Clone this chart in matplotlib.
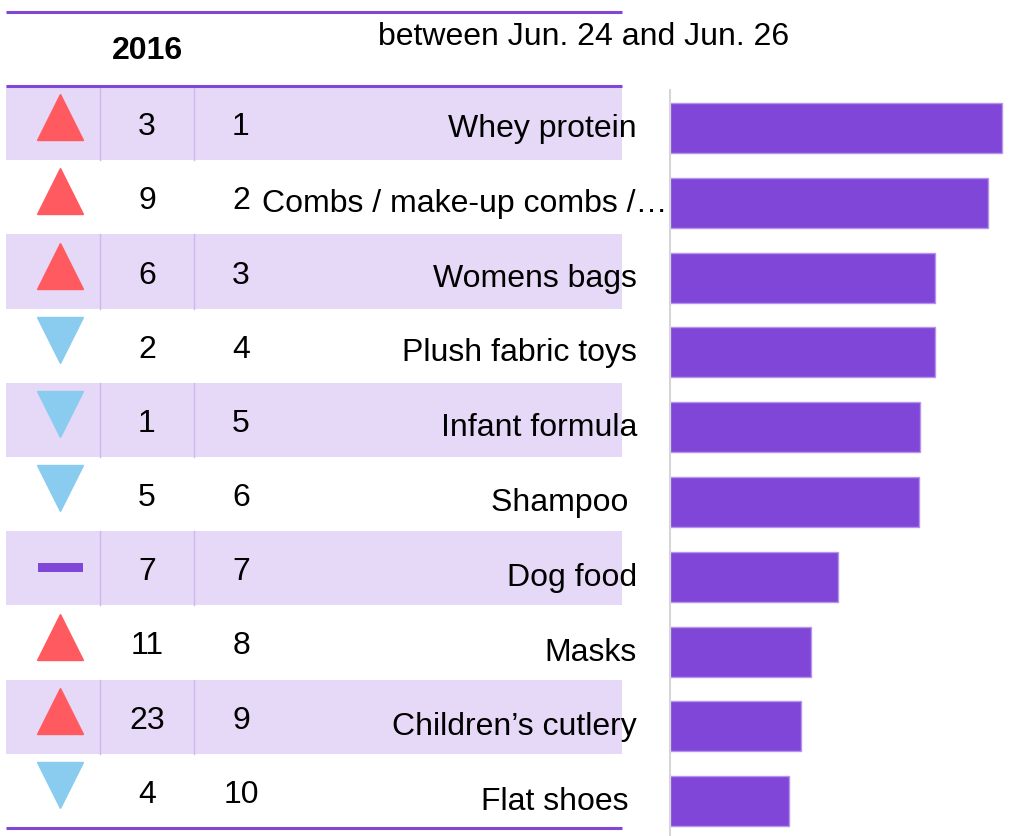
import numpy as np
import matplotlib.pyplot as plt
from matplotlib.patches import Rectangle

plt.rcParams['font.family'] = ['Liberation Sans', 'DejaVu Sans']

categories = ['Whey protein', 'Combs / make-up combs /…', 'Womens bags', 'Plush fabric toys',
              'Infant formula', 'Shampoo ', 'Dog food', 'Masks', 'Children’s cutlery', 'Flat shoes ']
rank_2016 = [3, 9, 6, 2, 1, 5, 7, 11, 23, 4]
rank_now = [1, 2, 3, 4, 5, 6, 7, 8, 9, 10]
values = [100, 95.8, 79.8, 79.8, 75.3, 75.0, 50.6, 42.5, 39.5, 35.8]
header_left = '2016'
header_title = 'between Jun. 24 and Jun. 26'

W, H = 1011, 836
purple = '#7F46D8'
shade = '#E6D8F7'
red = '#FF5A5F'
blue = '#8ACBF0'
fs = 23

fig = plt.figure(figsize=(W / 100, H / 100), dpi=100)

# table layer in pixel coordinates
ax = fig.add_axes([0, 0, 1, 1])
ax.set_xlim(0, W)
ax.set_ylim(H, 0)
ax.axis('off')

top, head, bottom = 12, 86, 828
left, right = 6, 622
row_h = (bottom - head) / len(categories)
lab_h = 74.8  # labels and bars run on a slightly wider grid

for i, (cat, r0, r1) in enumerate(zip(categories, rank_2016, rank_now)):
    y0 = head + i * row_h
    yc = y0 + row_h / 2
    if i % 2 == 0:
        ax.add_patch(Rectangle((left, y0), right - left, row_h, color=shade, lw=0, zorder=0))
        for xs in (100, 194):
            ax.plot([xs, xs], [y0, y0 + row_h], color='#CDB8F0', lw=1, zorder=1)
    # trend icon
    if r0 > r1:
        ax.plot(60, yc - 6, marker='^', ms=32.5, color=red, mec=red, zorder=2)
    elif r0 < r1:
        ax.plot(60, yc - 6, marker='v', ms=32.5, color=blue, mec=blue, zorder=2)
    else:
        ax.add_patch(Rectangle((38, yc - 5), 45, 9, color=purple, lw=0, zorder=2))
    ax.text(147, yc + 12, str(r0), ha='center', va='baseline', fontsize=fs)
    ax.text(241, yc + 12, str(r1), ha='center', va='baseline', fontsize=fs)
    yl = 137 + i * lab_h
    if cat.endswith('…'):
        ax.text(668, yl, cat, ha='right', va='baseline', fontsize=fs)
    else:
        ax.text(637, yl, cat, ha='right', va='baseline', fontsize=fs)

for yline in (top, head, bottom):
    ax.plot([left, right], [yline, yline], color=purple, lw=2.2, zorder=3, solid_capstyle='butt')

ax.text(147, 59, header_left, ha='center', va='baseline', fontsize=fs, fontweight='bold')
ax.text(378, 45, header_title, ha='left', va='baseline', fontsize=fs)

# bar chart
bx0, bx1 = 670, W
by_top = 90
bax = fig.add_axes([bx0 / W, 0, (bx1 - bx0) / W, (H - by_top) / H])
n = len(categories)
ypos = np.arange(n)
bax.barh(ypos, values, height=0.67, color=purple, edgecolor='#B794EC', lw=1)
bax.set_xlim(0, 100 * (bx1 - bx0) / 332)
first_c = 128
top_lim = -(first_c - by_top) / lab_h
bax.set_ylim(top_lim + (H - by_top) / lab_h, top_lim)
bax.set_xticks([])
bax.set_yticks([])
for s in ('top', 'right', 'bottom'):
    bax.spines[s].set_visible(False)
bax.spines['left'].set_color('#D6D6D6')
bax.spines['left'].set_linewidth(1.5)
bax.patch.set_alpha(0)

fig.savefig('out.png', dpi=100)
